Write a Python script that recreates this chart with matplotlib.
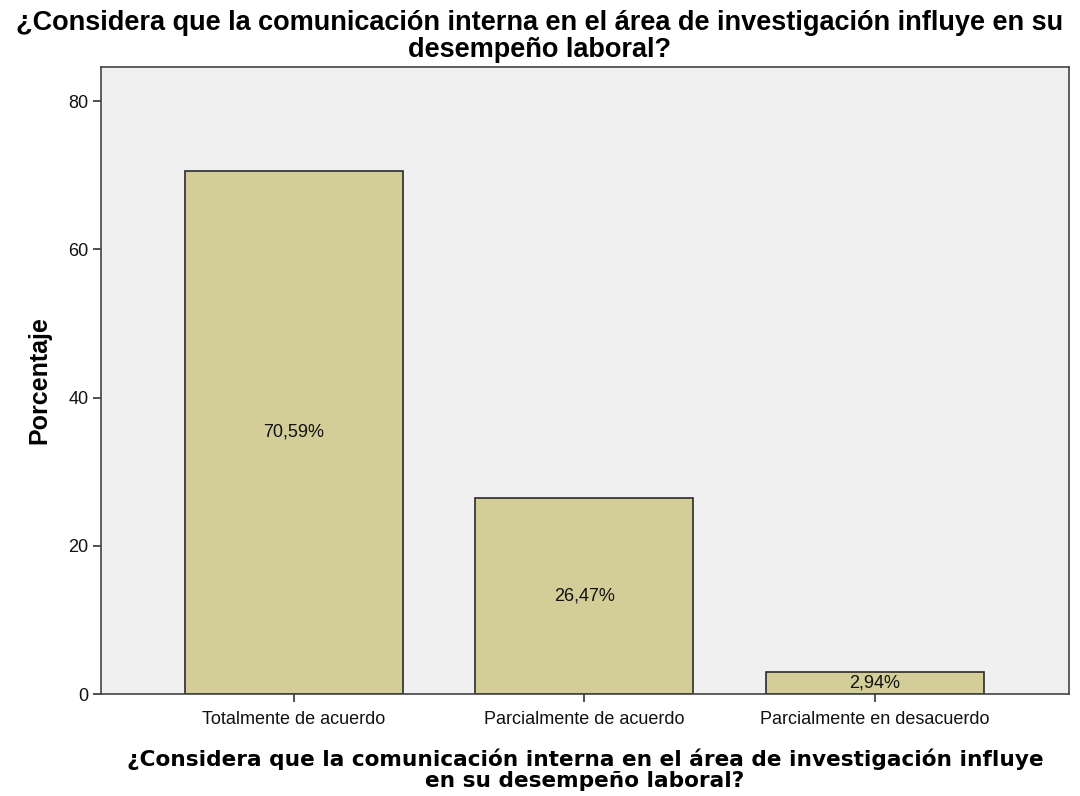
import matplotlib
matplotlib.use("Agg")
import matplotlib.pyplot as plt

categorias = ["Totalmente de acuerdo", "Parcialmente de acuerdo", "Parcialmente en desacuerdo"]
porcentajes = [70.59, 26.47, 2.94]
etiquetas = ["70,59%", "26,47%", "2,94%"]
yticks = [0, 20, 40, 60, 80]

pregunta = "¿Considera que la comunicación interna en el área de investigación influye en su\ndesempeño laboral?"
pregunta_x = "¿Considera que la comunicación interna en el área de investigación influye\nen su desempeño laboral?"

plt.rcParams['font.family'] = ['Liberation Sans', 'DejaVu Sans']

fig = plt.figure(figsize=(10.8, 7.96), dpi=100)
ax = fig.add_axes([0.0935, 0.1281, 0.8963, 0.7877])
ax.set_facecolor("#f0f0f0")

pos = list(range(len(categorias)))
ax.bar(pos, porcentajes, width=0.75, color="#d3ce97", edgecolor="#2b2b2b", linewidth=1.2)
for p, v, t in zip(pos, porcentajes, etiquetas):
    ax.text(p, v / 2, t, ha="center", va="center", fontsize=13, color="#111111")

ax.set_xlim(-0.664, 2.668)
ax.set_ylim(0, 84.6)
ax.set_yticks(yticks)
ax.set_xticks(pos)
ax.set_xticklabels(categorias)
ax.tick_params(axis="both", direction="out", length=6, width=1.2, color="#333333", labelsize=13, labelcolor="#111111")
ax.tick_params(axis="x", pad=6)
ax.tick_params(axis="y", pad=3)
for s in ax.spines.values():
    s.set_color("#444444")
    s.set_linewidth(1.2)

ax.set_ylabel("Porcentaje", fontsize=18, fontweight="bold", labelpad=12)
ax.set_xlabel(pregunta_x, fontsize=15.6, fontweight="bold", labelpad=15, linespacing=1.08,
              family=["DejaVu Sans"])
fig.suptitle(pregunta, fontsize=19.5, fontweight="bold", y=0.988, va="top", linespacing=1.05)

fig.savefig("out.png", dpi=100)
